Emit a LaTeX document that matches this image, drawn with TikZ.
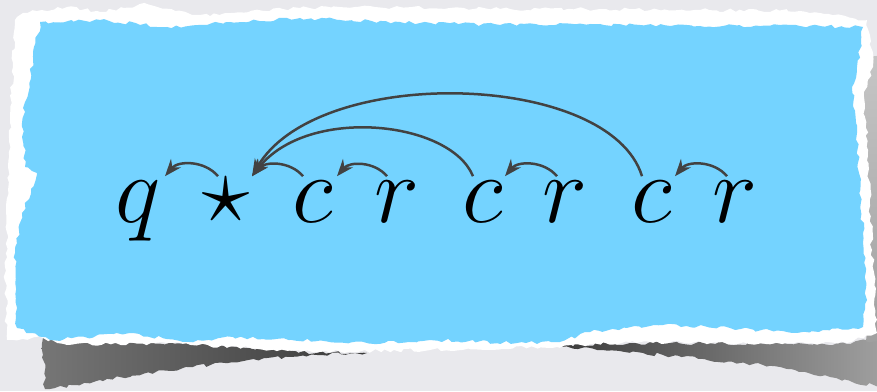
\documentclass[tikz,border=0pt]{standalone}
\usetikzlibrary{arrows.meta, decorations.pathmorphing}

\definecolor{bggray}{RGB}{233,233,237}
\definecolor{paperblue}{RGB}{116,211,255}
\definecolor{arrowgray}{RGB}{66,66,66}
\definecolor{shadowdark}{RGB}{58,58,58}
\definecolor{shadowlight}{RGB}{118,118,118}

\begin{document}
\begin{tikzpicture}[x=0.5pt, y=0.5pt,
    letter/.style={inner sep=0pt, anchor=base, scale=1.93, text height=11.66pt, text depth=4.7pt,
        font=\Huge},
    dep/.style={draw=arrowgray, line width=1.25pt, -{Stealth[length=8.5pt, width=6.5pt]}},
    torn/.style={decorate, decoration={random steps, segment length=2.5pt, amplitude=0.9pt}}]
    \pgfmathsetseed{17}
    \useasboundingbox (0,0) rectangle (877,391);

    % ==========================================
    % BACKGROUND AND SHADOWS
    % ==========================================
    \fill[bggray] (0,0) rectangle (877,391);

    % Shadow below the left half
    \shade[torn, left color=shadowlight, right color=shadowdark]
        (43,53) -- (120,50) -- (200,47) -- (317,38) -- (367,38) -- (317,36)
        -- (267,33) -- (183,23) -- (100,11) -- (50,2) -- (45,2) -- cycle;

    % Shadow below the right half
    \shade[torn, left color=shadowdark, right color=shadowlight!70!white]
        (557,46) -- (630,48) -- (763,47) -- (847,47) -- (880,55) -- (880,4)
        -- (830,14) -- (763,26) -- (663,36) -- (597,41) -- cycle;

    % Shadow on the right side
    \shade[torn, top color=gray!45, bottom color=gray!75]
        (862,336) -- (880,336) -- (880,50) -- (866,50) -- cycle;

    % ==========================================
    % TORN PAPER
    % ==========================================
    % White rim
    \fill[white, torn]
        (17,374) -- (23,378) -- (67,384) -- (100,379) -- (147,387) -- (200,376)
        -- (233,378) -- (300,383) -- (400,384) -- (500,382) -- (600,382)
        -- (700,381) -- (800,380) -- (867,371) -- (873,324) -- (864,294)
        -- (868,241) -- (872,141) -- (877,58) -- (847,48) -- (763,48)
        -- (630,49) -- (557,44) -- (430,41) -- (317,39) -- (167,48) -- (67,46)
        -- (43,53) -- (7,51) -- (5,124) -- (7,158) -- (8,224) -- (10,274)
        -- (13,324) -- (15,371) -- cycle;

    % Blue sheet
    \fill[paperblue, torn]
        (40,369) -- (100,371) -- (167,364) -- (230,369) -- (300,373) -- (400,369)
        -- (500,366) -- (600,367) -- (700,365) -- (800,365) -- (863,364)
        -- (857,324) -- (852,304) -- (857,258) -- (863,158) -- (867,91)
        -- (863,64) -- (797,58) -- (730,63) -- (663,66) -- (590,59) -- (557,49)
        -- (517,48) -- (430,51) -- (367,48) -- (233,54) -- (183,49) -- (133,58)
        -- (50,51) -- (17,63) -- (15,138) -- (22,178) -- (37,218) -- (25,224)
        -- (22,268) -- (33,334) -- cycle;

    % ==========================================
    % SYMBOLS
    % ==========================================
    \node[letter] (q)     at (138,169) {$q$};
    \node[letter] (star)  at (226,169) {$\star$};
    \node[letter] (c1)    at (313,169) {$c$};
    \node[letter] (r1)    at (397,169) {$r$};
    \node[letter] (c2)    at (483,169) {$c$};
    \node[letter] (r2)    at (565,169) {$r$};
    \node[letter] (c3)    at (652,169) {$c$};
    \node[letter] (r3)    at (735,169) {$r$};

    % Short arcs to the left neighbour
    \draw[dep] ([xshift=-4pt]star.north) to[bend right=50] ([xshift=13.5pt]q.north);
    \draw[dep] ([xshift=-5pt]c1.north) to[bend right=50] ([xshift=13pt]star.north);
    \draw[dep] ([xshift=-5pt]r1.north) to[bend right=50] ([xshift=12pt]c1.north);
    \draw[dep] ([xshift=-4pt]r2.north) to[bend right=50] ([xshift=11pt]c2.north);
    \draw[dep] ([xshift=-4pt]r3.north) to[bend right=50] ([xshift=11.5pt]c3.north);

    % Long arcs back to the star
    \draw[dep] ([xshift=-5pt]c2.north)
        to[out=112, in=52, out distance=30pt, in distance=45pt] ([xshift=13pt]star.north);
    \draw[dep] ([xshift=-5pt]c3.north)
        to[out=107, in=60, out distance=55pt, in distance=65pt] ([xshift=13pt]star.north);
\end{tikzpicture}
\end{document}
